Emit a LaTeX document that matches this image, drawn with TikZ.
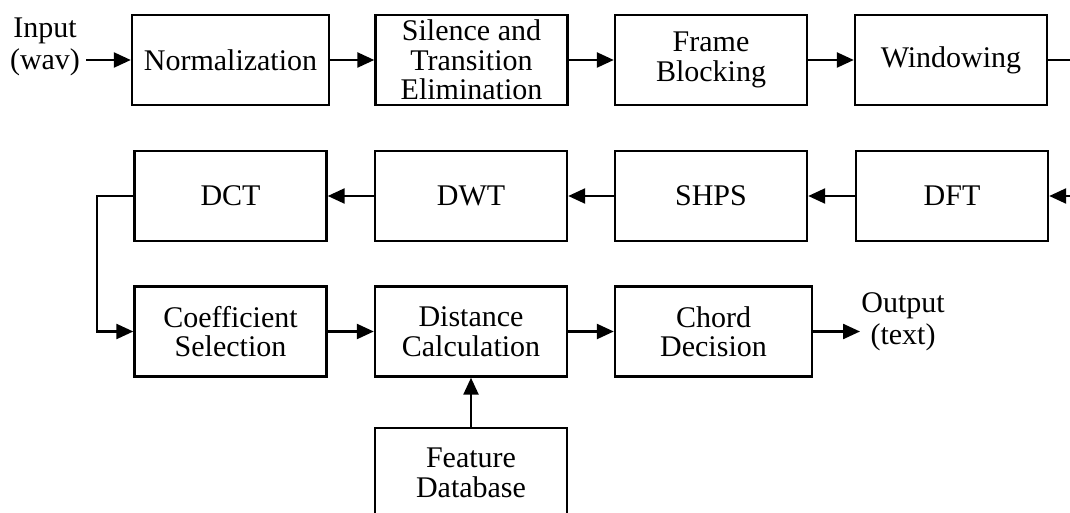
\documentclass[tikz,border=0pt]{standalone}
\usepackage{fontspec}
\setmainfont{Liberation Serif}
\usetikzlibrary{arrows.meta}
\begin{document}
\begin{tikzpicture}[x=1pt,y=-1pt,
 blk/.style={draw,line width=2.4pt,minimum width=192pt,minimum height=90pt,inner sep=0pt,align=center,font=\fontsize{30}{29.5}\selectfont},
 lbl/.style={align=center,inner sep=0pt,font=\fontsize{30}{32}\selectfont},
 conn/.style={line width=2.4pt,-{Triangle[length=17pt,width=15pt]}},
 plain/.style={line width=2.4pt}]
\clip (0,0) rectangle (1070,513);
\fill[white] (0,0) rectangle (1070,513);
% row 1
\node[blk,minimum width=197pt] (norm) at (230.5,60) {Normalization};
\node[blk] (sil) at (471.5,60) {Silence and\\Transition\\Elimination};
\node[blk] (frame) at (711,60) {Frame\\Blocking};
\node[blk] (win) at (951,60) {Windowing};
% row 2
\node[blk] (dct) at (230.5,196) {DCT};
\node[blk] (dwt) at (471,196) {DWT};
\node[blk] (shps) at (711,196) {SHPS};
\node[blk] (dft) at (952,196) {DFT};
% row 3
\node[blk] (coef) at (230.5,331.5) {Coefficient\\Selection};
\node[blk] (dist) at (471,331.5) {Distance\\Calculation};
\node[blk,minimum width=197pt] (chord) at (713.5,331.5) {Chord\\Decision};
\node[blk] (feat) at (471,473) {Feature\\Database};
% labels
\node[lbl] (in) at (45,47) {Input\\(wav)};
\node[lbl] (out) at (903,322) {Output\\(text)};
\coordinate (inA) at (86,60);
\coordinate (outA) at (860,331.5);
\coordinate (winR) at (1075,60);
\coordinate (dftR) at (1075,196);
% connectors
\draw[conn] (inA) -- (norm.west);
\draw[conn] (norm) -- (sil);
\draw[conn] (sil) -- (frame);
\draw[conn] (frame) -- (win);
\draw[plain] (win.east) -- (winR);
\draw[conn] (dftR) -- (dft.east);
\draw[conn] (dft) -- (shps);
\draw[conn] (shps) -- (dwt);
\draw[conn] (dwt) -- (dct);
\draw[conn] (dct.west) -- ++(-36.5,0) |- (coef.west);
\draw[conn] (coef) -- (dist);
\draw[conn] (dist) -- (chord);
\draw[conn] (chord.east) -- (outA);
\draw[conn] (feat) -- (dist);
\end{tikzpicture}
\end{document}
